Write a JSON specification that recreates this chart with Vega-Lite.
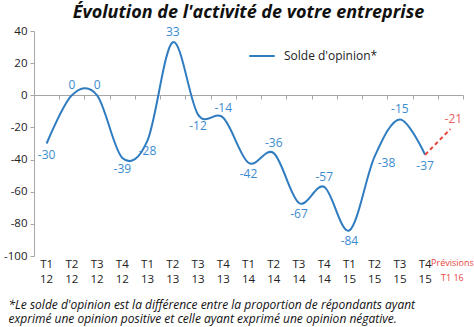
{
  "$schema": "https://vega.github.io/schema/vega-lite/v6.json",
  "width": 429,
  "height": 225,
  "autosize": {"type": "none"},
  "padding": {"left": 34, "top": 31, "right": 11, "bottom": 71},
  "background": "white",
  "title": {
    "text": "Évolution de l'activité de votre entreprise",
    "font": "Open Sans",
    "fontSize": 18,
    "fontStyle": "italic",
    "fontWeight": "bold",
    "color": "#111111",
    "anchor": "middle",
    "offset": 9,
    "dy": 6
  },
  "config": {
    "view": {"stroke": null},
    "font": "Open Sans",
    "axis": {"labelFont": "Open Sans", "titleFont": "Open Sans"},
    "axisY": {
      "labelOverlap": false,
      "grid": false,
      "domainColor": "#a6a6a6",
      "tickColor": "#a6a6a6",
      "tickSize": 4,
      "labelFontSize": 11.5,
      "labelColor": "#222222",
      "labelPadding": 3,
      "tickCount": 8
    },
    "legend": {"labelFont": "Open Sans"}
  },
  "datasets": {
    "main": [
      {"q": "T1 12", "v": -30, "serie": "Solde d'opinion*"},
      {"q": "T2 12", "v": 0, "serie": "Solde d'opinion*"},
      {"q": "T3 12", "v": 0, "serie": "Solde d'opinion*"},
      {"q": "T4 12", "v": -39, "serie": "Solde d'opinion*"},
      {"q": "T1 13", "v": -28, "serie": "Solde d'opinion*"},
      {"q": "T2 13", "v": 33, "serie": "Solde d'opinion*"},
      {"q": "T3 13", "v": -12, "serie": "Solde d'opinion*"},
      {"q": "T4 13", "v": -14, "serie": "Solde d'opinion*"},
      {"q": "T1 14", "v": -42, "serie": "Solde d'opinion*"},
      {"q": "T2 14", "v": -36, "serie": "Solde d'opinion*"},
      {"q": "T3 14", "v": -67, "serie": "Solde d'opinion*"},
      {"q": "T4 14", "v": -57, "serie": "Solde d'opinion*"},
      {"q": "T1 15", "v": -84, "serie": "Solde d'opinion*"},
      {"q": "T2 15", "v": -38, "serie": "Solde d'opinion*"},
      {"q": "T3 15", "v": -15, "serie": "Solde d'opinion*"},
      {"q": "T4 15", "v": -37, "serie": "Solde d'opinion*"}
    ],
    "forecast": [
      {"q": "T4 15", "v": -37},
      {"q": "Prévisions T1 16", "v": -21}
    ],
    "cats": [
      {"q": "T1 12"}, {"q": "T2 12"}, {"q": "T3 12"}, {"q": "T4 12"},
      {"q": "T1 13"}, {"q": "T2 13"}, {"q": "T3 13"}, {"q": "T4 13"},
      {"q": "T1 14"}, {"q": "T2 14"}, {"q": "T3 14"}, {"q": "T4 14"},
      {"q": "T1 15"}, {"q": "T2 15"}, {"q": "T3 15"}, {"q": "T4 15"},
      {"q": "Prévisions T1 16"}
    ]
  },
  "resolve": {"axis": {"x": "independent"}},
  "layer": [
    {
      "data": {"name": "main"},
      "mark": {"type": "line", "interpolate": "cardinal", "strokeWidth": 2},
      "encoding": {
        "x": {
          "field": "q",
          "type": "ordinal",
          "scale": {
            "type": "band",
            "paddingInner": 0,
            "paddingOuter": 0,
            "domain": ["T1 12", "T2 12", "T3 12", "T4 12", "T1 13", "T2 13", "T3 13", "T4 13", "T1 14", "T2 14", "T3 14", "T4 14", "T1 15", "T2 15", "T3 15", "T4 15", "Prévisions T1 16"]
          },
          "axis": {
            "orient": "bottom",
            "domain": false,
            "ticks": false,
            "labelAngle": 0,
            "labelPadding": 2,
            "labelOverlap": false,
            "labelFontSize": {"condition": {"test": "indexof(datum.value, 'Pr') === 0", "value": 9}, "value": 11.5},
            "labelOffset": {"condition": {"test": "indexof(datum.value, 'Pr') === 0", "value": 2}, "value": 0},
            "labelColor": {"condition": {"test": "indexof(datum.value, 'Pr') === 0", "value": "#e8453c"}, "value": "#222222"},
            "labelLineHeight": 15,
            "labelExpr": "indexof(datum.label, 'Pr') === 0 ? ['Prévisions', 'T1 16'] : split(datum.label, ' ')",
            "title": ["*Le solde d'opinion est la différence entre la proportion de répondants ayant", "exprimé une opinion positive et celle ayant exprimé une opinion négative."],
            "titleFontSize": 12,
            "titleFontStyle": "italic",
            "titleFontWeight": "normal",
            "titleColor": "#111111",
            "titleAnchor": "start",
            "titleAlign": "left",
            "titleBaseline": "middle",
            "titleX": -26,
            "titleY": 48,
            "titleLineHeight": 14
          }
        },
        "y": {
          "field": "v",
          "type": "quantitative",
          "scale": {"domain": [-100, 40], "nice": false},
          "axis": {
            "title": null,
            "values": [-100, -80, -60, -40, -20, 0, 20, 40],
            "labelExpr": "'' + datum.value",
            "labelOverlap": false
          }
        },
        "color": {
          "field": "serie",
          "type": "nominal",
          "scale": {"range": ["#2f7cc0"]},
          "legend": {
            "title": null,
            "orient": "none",
            "legendX": 214,
            "legendY": 11,
            "symbolType": "stroke",
            "symbolStrokeWidth": 2,
            "symbolSize": 650,
            "labelFontSize": 12,
            "labelColor": "#222222",
            "labelOffset": 8
          }
        }
      }
    },
    {
      "data": {"name": "forecast"},
      "mark": {"type": "line", "strokeDash": [4, 3], "strokeWidth": 2, "color": "#e8453c"},
      "encoding": {
        "x": {"field": "q", "type": "ordinal", "axis": null},
        "y": {"field": "v", "type": "quantitative", "title": null}
      }
    },
    {
      "data": {"name": "main"},
      "transform": [{"filter": "indexof(['T2 12','T3 12','T2 13','T4 13','T2 14','T4 14','T3 15'], datum.q) >= 0"}],
      "mark": {"type": "text", "baseline": "bottom", "dy": -3, "fontSize": 12, "color": "#3b8bd0"},
      "encoding": {
        "x": {"field": "q", "type": "ordinal", "axis": null},
        "y": {"field": "v", "type": "quantitative", "title": null},
        "text": {"field": "v", "type": "nominal"}
      }
    },
    {
      "data": {"name": "main"},
      "transform": [{"filter": "indexof(['T2 12','T3 12','T2 13','T4 13','T2 14','T4 14','T3 15','T2 15'], datum.q) < 0"}],
      "mark": {"type": "text", "baseline": "top", "dy": 6, "fontSize": 12, "color": "#3b8bd0"},
      "encoding": {
        "x": {"field": "q", "type": "ordinal", "axis": null},
        "y": {"field": "v", "type": "quantitative", "title": null},
        "text": {"field": "v", "type": "nominal"}
      }
    },
    {
      "data": {"name": "main"},
      "transform": [{"filter": "datum.q == 'T2 15'"}],
      "mark": {"type": "text", "align": "left", "baseline": "top", "dx": 3, "dy": 2, "fontSize": 12, "color": "#3b8bd0"},
      "encoding": {
        "x": {"field": "q", "type": "ordinal", "axis": null},
        "y": {"field": "v", "type": "quantitative", "title": null},
        "text": {"field": "v", "type": "nominal"}
      }
    },
    {
      "data": {"name": "forecast"},
      "transform": [{"filter": "datum.q == 'Prévisions T1 16'"}],
      "mark": {"type": "text", "baseline": "bottom", "dy": -3, "dx": 3, "fontSize": 12, "color": "#e8605a"},
      "encoding": {
        "x": {"field": "q", "type": "ordinal", "axis": null},
        "y": {"field": "v", "type": "quantitative", "title": null},
        "text": {"field": "v", "type": "nominal"}
      }
    },
    {
      "data": {"name": "cats"},
      "mark": {"type": "point", "opacity": 0},
      "encoding": {
        "x": {
          "field": "q",
          "type": "ordinal",
          "axis": {
            "orient": "bottom",
            "offset": -161,
            "labels": false,
            "title": null,
            "domainColor": "#a6a6a6",
            "tickColor": "#a6a6a6",
            "tickSize": 4,
            "tickBand": "extent"
          }
        }
      }
    }
  ]
}
